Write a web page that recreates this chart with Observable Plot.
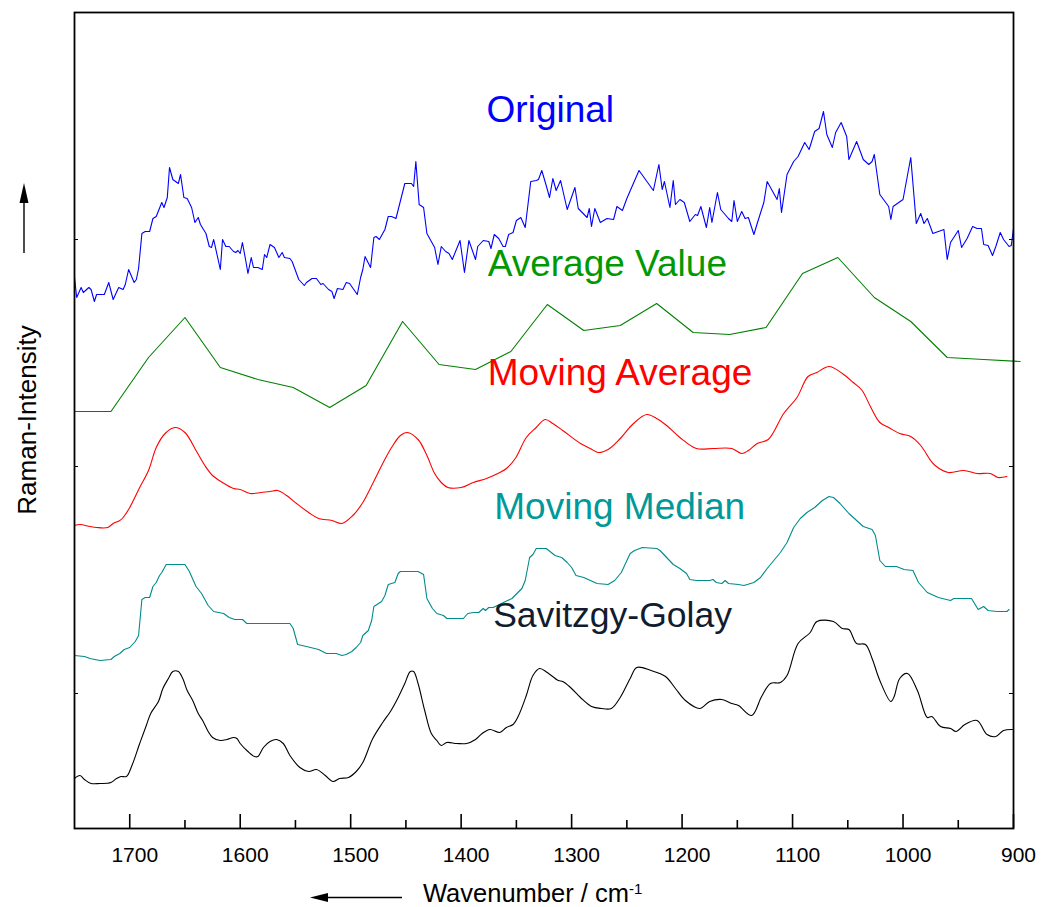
<!DOCTYPE html>
<html>
<head>
<meta charset="utf-8">
<script src="https://cdn.jsdelivr.net/npm/d3@7"></script>
<script src="https://cdn.jsdelivr.net/npm/@observablehq/plot@0.6"></script>
<style>
  body { margin: 0; background: #fff; }
  #chart svg { display: block; }
</style>
</head>
<body>
<div id="chart"></div>
<script>
// Raman spectrum (arbitrary intensity units) and four smoothed versions,
// stacked with vertical offsets. Pairs are [wavenumber cm^-1, intensity].
const original = [[1750,551],[1748,531],[1744,541],[1742,536],[1737,541],[1735,539],[1732,527],[1730,534],[1723,534],[1719,546],[1715,529],[1710,541],[1706,539],[1704,544],[1701,559],[1696,546],[1694,549],[1692,560],[1689,595],[1686,597],[1682,597],[1679,610],[1676,612],[1671,626],[1669,621],[1666,631],[1664,661],[1661,649],[1656,645],[1654,654],[1651,631],[1648,630],[1644,621],[1641,606],[1638,611],[1636,604],[1631,595],[1628,582],[1626,581],[1624,589],[1618,559],[1616,589],[1613,582],[1610,582],[1606,577],[1604,576],[1602,578],[1600,575],[1598,586],[1595,568],[1593,555],[1590,571],[1588,561],[1584,561],[1580,559],[1578,574],[1576,571],[1573,584],[1569,581],[1565,571],[1562,576],[1560,571],[1555,570],[1553,567],[1547,549],[1542,543],[1540,546],[1535,550],[1531,550],[1527,544],[1525,545],[1520,539],[1517,537],[1515,530],[1512,540],[1507,539],[1504,546],[1501,545],[1494,534],[1491,551],[1489,559],[1487,572],[1482,561],[1479,591],[1477,592],[1474,589],[1469,599],[1466,612],[1463,612],[1459,610],[1451,645],[1445,645],[1443,642],[1441,667],[1438,624],[1434,621],[1431,595],[1424,581],[1421,564],[1418,582],[1414,577],[1411,575],[1408,569],[1401,588],[1397,556],[1393,588],[1387,569],[1385,582],[1380,588],[1375,587],[1373,580],[1370,594],[1366,590],[1362,582],[1360,582],[1357,594],[1353,596],[1350,608],[1346,611],[1342,601],[1337,647],[1332,648],[1330,649],[1327,658],[1323,643],[1320,631],[1317,650],[1314,638],[1310,648],[1304,619],[1297,641],[1294,620],[1286,611],[1284,620],[1282,602],[1279,620],[1274,606],[1268,610],[1262,609],[1259,622],[1254,618],[1250,630],[1239,658],[1226,638],[1221,664],[1218,639],[1216,647],[1211,621],[1208,648],[1206,624],[1202,629],[1198,626],[1193,607],[1188,614],[1186,613],[1183,622],[1178,601],[1175,621],[1173,606],[1168,636],[1165,619],[1158,610],[1155,607],[1153,628],[1150,607],[1146,617],[1143,610],[1140,611],[1135,594],[1132,605],[1126,626],[1123,647],[1114,629],[1112,640],[1110,616],[1105,654],[1099,667],[1095,672],[1089,686],[1085,679],[1080,697],[1076,700],[1072,717],[1069,694],[1064,681],[1061,696],[1056,706],[1051,692],[1049,669],[1042,687],[1036,669],[1031,664],[1028,667],[1026,674],[1021,634],[1013,622],[1011,609],[1009,622],[1000,629],[993,671],[988,605],[984,615],[981,605],[978,610],[973,595],[963,599],[960,569],[957,586],[950,598],[947,581],[942,590],[937,602],[933,600],[929,600],[927,584],[923,583],[919,573],[916,582],[912,596],[909,589],[904,582],[902,583],[900,600]];

const averageValue = [[1750,417],[1717,417],[1683,471],[1650,511],[1618,461],[1584,449],[1552,441],[1519,421],[1486,443],[1453,507],[1420,464],[1387,459],[1355,477],[1322,524],[1289,498],[1256,503],[1223,525],[1190,496],[1157,494],[1124,501],[1091,555],[1059,571],[1026,531],[993,507],[960,471],[927,469],[894,467]];

const movingAverage = [[1750,303],[1745,304],[1736,302],[1730,301],[1720,301],[1715,305],[1709,308],[1706,311],[1700,321],[1691,341],[1683,358],[1676,381],[1668,395],[1659,401],[1650,396],[1640,378],[1632,363],[1625,353],[1616,346],[1606,340],[1600,339],[1591,335],[1581,336],[1573,337],[1566,338],[1558,333],[1549,325],[1538,316],[1529,310],[1517,308],[1508,305],[1498,313],[1489,326],[1480,345],[1471,365],[1463,381],[1455,393],[1449,396],[1439,389],[1431,373],[1424,355],[1418,346],[1412,341],[1400,341],[1389,346],[1377,350],[1365,356],[1359,360],[1351,370],[1341,391],[1332,401],[1324,409],[1317,405],[1308,398],[1292,385],[1283,380],[1276,376],[1267,379],[1256,390],[1244,405],[1232,414],[1223,410],[1214,403],[1202,391],[1187,380],[1172,380],[1155,380],[1146,375],[1140,378],[1132,385],[1122,389],[1108,415],[1096,431],[1086,452],[1078,456],[1067,462],[1055,455],[1045,446],[1037,438],[1030,423],[1021,406],[1013,401],[1003,395],[993,392],[984,383],[975,368],[971,363],[959,356],[945,358],[933,355],[921,355],[914,351],[906,352]];

const movingMedian = [[1750,173],[1741,172],[1736,170],[1727,168],[1717,169],[1714,172],[1709,175],[1705,179],[1700,181],[1695,187],[1692,193],[1689,229],[1686,231],[1682,231],[1679,242],[1676,246],[1673,253],[1671,256],[1667,264],[1650,264],[1646,257],[1640,242],[1635,235],[1629,223],[1624,217],[1615,215],[1610,211],[1605,209],[1598,209],[1594,205],[1585,205],[1555,205],[1552,200],[1548,184],[1540,182],[1529,179],[1522,175],[1513,175],[1508,173],[1504,174],[1499,177],[1495,181],[1491,186],[1489,193],[1484,198],[1481,208],[1479,222],[1472,227],[1469,233],[1466,244],[1460,246],[1457,255],[1455,257],[1439,257],[1434,254],[1431,230],[1426,220],[1422,215],[1416,213],[1413,210],[1398,210],[1394,215],[1389,216],[1384,216],[1380,220],[1378,218],[1375,221],[1371,221],[1354,230],[1345,240],[1342,248],[1338,271],[1335,274],[1332,280],[1323,280],[1315,273],[1309,271],[1304,266],[1300,261],[1296,253],[1289,251],[1283,248],[1277,245],[1267,244],[1261,248],[1255,256],[1247,275],[1243,278],[1236,281],[1223,280],[1220,278],[1214,271],[1208,264],[1202,260],[1196,255],[1193,249],[1187,248],[1175,248],[1172,249],[1169,246],[1164,245],[1161,248],[1158,245],[1149,244],[1144,243],[1135,246],[1129,251],[1123,260],[1117,268],[1111,276],[1105,286],[1099,301],[1093,310],[1087,316],[1080,321],[1073,328],[1067,332],[1063,331],[1057,325],[1049,315],[1043,309],[1036,302],[1028,299],[1025,293],[1021,268],[1016,262],[1006,262],[999,259],[991,258],[986,246],[978,236],[968,231],[957,228],[954,230],[938,230],[932,219],[927,222],[923,218],[915,217],[906,217],[904,219]];

const savitzkyGolay = [[1750,50],[1745,53],[1741,49],[1735,45],[1727,45],[1717,46],[1712,50],[1708,52],[1703,52],[1698,63],[1691,85],[1685,103],[1681,115],[1674,127],[1670,140],[1665,150],[1661,157],[1656,157],[1652,150],[1648,138],[1643,128],[1638,115],[1634,108],[1629,97],[1625,91],[1618,88],[1612,89],[1606,91],[1603,90],[1600,85],[1593,77],[1587,72],[1584,72],[1579,81],[1573,87],[1567,89],[1561,85],[1555,73],[1546,61],[1538,57],[1531,59],[1523,53],[1516,47],[1510,50],[1502,51],[1495,57],[1489,66],[1480,90],[1471,106],[1464,117],[1457,131],[1451,145],[1446,157],[1443,157],[1439,145],[1433,118],[1427,95],[1422,88],[1418,83],[1413,86],[1404,85],[1395,85],[1387,89],[1381,95],[1374,99],[1365,96],[1359,101],[1353,104],[1348,113],[1341,133],[1335,153],[1329,160],[1322,156],[1312,148],[1308,147],[1301,141],[1292,131],[1282,122],[1273,120],[1264,120],[1256,131],[1247,150],[1241,161],[1228,158],[1215,152],[1206,140],[1197,128],[1184,120],[1175,127],[1164,129],[1155,125],[1149,123],[1137,113],[1128,132],[1120,145],[1111,146],[1105,153],[1095,185],[1084,196],[1078,207],[1063,207],[1055,200],[1049,199],[1042,185],[1034,184],[1028,170],[1021,148],[1011,127],[1008,132],[1003,150],[996,155],[987,138],[978,111],[974,112],[966,102],[957,100],[952,97],[944,104],[933,108],[924,94],[916,92],[909,98],[901,99]];

const seriesNames = ["Original", "Average Value", "Moving Average", "Moving Median", "Savitzgy-Golay"];
const majorTicks = [1700, 1600, 1500, 1400, 1300, 1200, 1100, 1000, 900];
const minorTicks = [1650, 1550, 1450, 1350, 1250, 1150, 1050, 950];
const intensityTicks = [135, 362, 589];

// Layout and styling
const width = 1041, height = 907;
const margin = {top: 12, right: 28, bottom: 79, left: 74};
const innerW = width - margin.left - margin.right;
const innerH = height - margin.top - margin.bottom;
const font = "'Liberation Sans', Arial, Helvetica, sans-serif";

const lineColors = ["#0000ff", "#008000", "#ff0000", "#008b8b", "#000000"];
const labelColors = ["#0000ff", "#009900", "#ff0000", "#009999", "#101c30"];
const labelSizes = [37, 37, 37, 37, 35.5];
// label anchors (left edge, vertical middle) in data coordinates
const labelX = [1377, 1376, 1376, 1370, 1371];
const labelY = [718, 564, 455, 321.5, 213];

const seriesData = [original, averageValue, movingAverage, movingMedian, savitzkyGolay];
const curves = ["linear", "linear", "catmull-rom", "linear", "catmull-rom"];

const labels = seriesNames.map((name, i) => ({name, x: labelX[i], y: labelY[i], color: labelColors[i], size: labelSizes[i]}));

const svg = Plot.plot({
  width, height,
  marginTop: margin.top, marginRight: margin.right, marginBottom: margin.bottom, marginLeft: margin.left,
  style: {fontFamily: font, background: "#fff", color: "#000"},
  x: {domain: [1750, 900], label: null},
  y: {domain: [0, innerH], label: null, axis: null},
  marks: [
    // inward ticks along the bottom
    Plot.ruleX(majorTicks, {x: d => d, insetTop: innerH - 14, stroke: "#000", strokeWidth: 1.6}),
    Plot.ruleX(minorTicks, {x: d => d, insetTop: innerH - 8, stroke: "#000", strokeWidth: 1.6}),
    // small unlabelled intensity ticks on both sides
    Plot.ruleY(intensityTicks, {y: d => d, insetRight: innerW - 4, stroke: "#000", strokeWidth: 1}),
    Plot.ruleY(intensityTicks, {y: d => d, insetLeft: innerW - 4, stroke: "#000", strokeWidth: 1}),
    Plot.axisX(majorTicks, {tickSize: 0, tickPadding: 19, dx: 5, fontSize: 21, label: null, fill: "#000", tickFormat: d => String(d)}),
    ...seriesData.map((data, i) => Plot.line(data, {x: d => d[0], y: d => d[1], stroke: lineColors[i], strokeWidth: 1.1, curve: curves[i]})),
    Plot.frame({stroke: "#000", strokeWidth: 1.8}),
    ...labels.map(l => Plot.text([l], {x: "x", y: "y", text: "name", fill: l.color, fontSize: l.size, textAnchor: "start", lineAnchor: "middle"}))
  ]
});

// Axis titles with direction arrows
const g = d3.select(svg).append("g")
  .attr("font-family", font)
  .attr("fill", "#000")
  .attr("text-anchor", "start");

const xt = g.append("text")
  .attr("x", 423).attr("y", height - 5.5)
  .attr("text-anchor", "start")
  .attr("font-size", 25.5);
xt.append("tspan").text("Wavenumber / cm");
xt.append("tspan").attr("font-size", 15).attr("dy", -8).text("-1");

g.append("line").attr("x1", 402).attr("x2", 326).attr("y1", height - 9.5).attr("y2", height - 9.5)
  .attr("stroke", "#000").attr("stroke-width", 1.4);
g.append("path").attr("d", `M310,${height - 9.5} L328,${height - 14} L328,${height - 5} Z`);

g.append("text")
  .attr("transform", `translate(36,${margin.top + innerH / 2}) rotate(-90)`)
  .attr("text-anchor", "middle")
  .attr("font-size", 26)
  .text("Raman-Intensity");

g.append("line").attr("x1", 24).attr("x2", 24).attr("y1", 253).attr("y2", 200)
  .attr("stroke", "#000").attr("stroke-width", 1.4);
g.append("path").attr("d", "M24,183 L19.5,203 L28.5,203 Z");

document.getElementById("chart").appendChild(svg);
</script>
</body>
</html>
